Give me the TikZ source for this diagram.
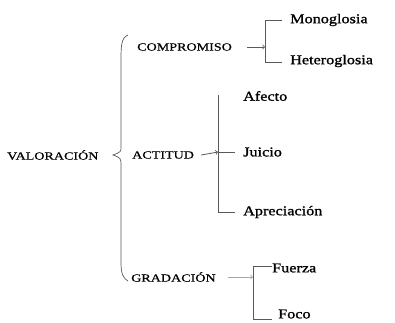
\documentclass[tikz,border=0pt]{standalone}
\usepackage{fontspec}
\setmainfont{Liberation Serif}
\newfontfamily\lblfont[FakeStretch=1.2,FakeBold=1.2]{Liberation Serif}
\newfontfamily\capfont[FakeStretch=1.28,FakeBold=0.6]{Liberation Serif}
\begin{document}
\begin{tikzpicture}[x=1pt,y=-1pt,
	cat/.style={anchor=west, inner sep=0pt, font=\capfont\fontsize{11}{12}\selectfont},
	sub/.style={anchor=west, inner sep=0pt, font=\lblfont\fontsize{13.5}{15}\selectfont},
	ln/.style={draw=black!65, line width=0.8pt},
	arr/.style={ln, ->, >=to}]
	\useasboundingbox (0,0) rectangle (395,322);
	\node[cat] (val) at (7,155) {VALORACIÓN};
	\draw[ln, line width=0.7pt] (128,35) .. controls (121,38) and (121,46) .. (121,62) -- (121,146) .. controls (121,152) .. (113,155) .. controls (121,158) .. (121,166) -- (121,262) .. controls (121,274) and (123,278) .. (128,281);
	\node[cat] (comp) at (137,47) {COMPROMISO};
	\node[cat] (act) at (132,155) {ACTITUD};
	\node[cat] (grad) at (131,277) {GRADACIÓN};
	\node[sub] (mono) at (290,20) {Monoglosia};
	\node[sub] (hetero) at (290,61) {Heteroglosia};
	\node[sub] (afecto) at (243,96) {Afecto};
	\node[sub] (juicio) at (243,152) {Juicio};
	\node[sub] (apre) at (243,212) {Apreciación};
	\node[sub] (fuerza) at (272,268) {Fuerza};
	\node[sub] (foco) at (278,314) {Foco};
	\coordinate (cb) at (265,47);
	\coordinate (ab) at (218,152);
	\coordinate (gb) at (253,277);
	\draw[arr] ([xshift=15pt]comp.east) -- (cb);
	\draw[ln] (mono.west) ++(-8,0) -| (265,62) -- ++(17,0);
	\draw[arr] ([xshift=7pt]act.east) -- (ab);
	\draw[ln] (218,95) |- ([xshift=-8pt]apre.west);
	\draw[ln] (ab) -- ([xshift=-8pt]juicio.west);
	\draw[arr, draw=black!35] ([xshift=12pt]grad.east) -- (gb);
	\draw[ln] (fuerza.west) ++(0,-2) -| (253,319) -- ++(19,0);
\end{tikzpicture}
\end{document}
